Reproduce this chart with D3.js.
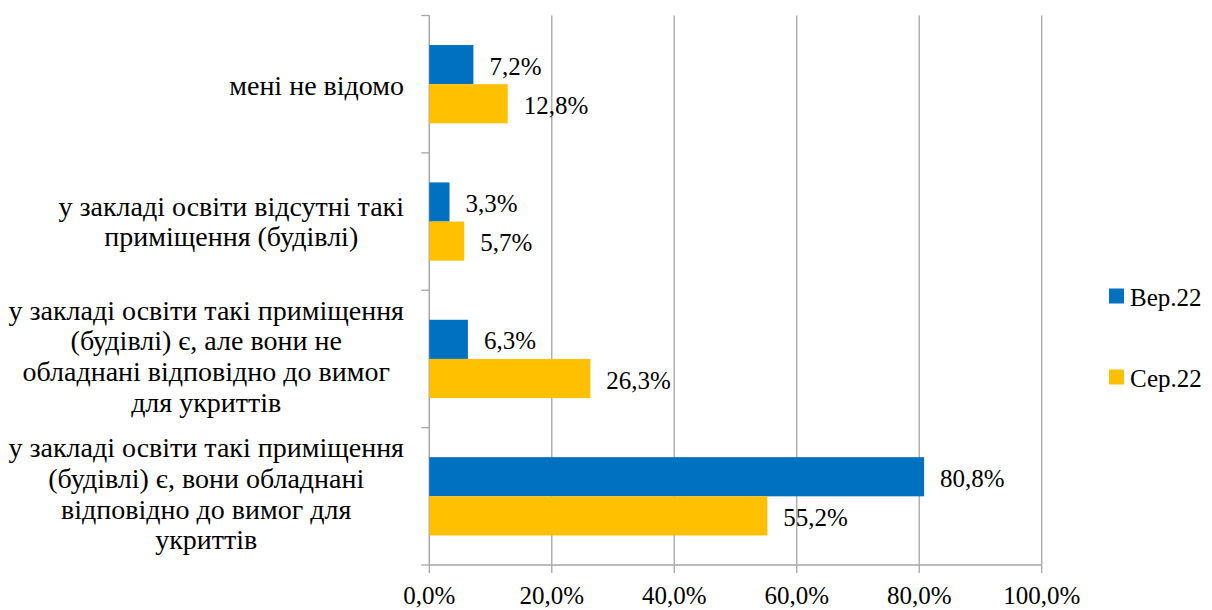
<!DOCTYPE html>
<html><head><meta charset="utf-8">
<script src="https://cdn.jsdelivr.net/npm/d3@7"></script>
</head><body style="margin:0"><svg id="c" width="1212" height="610" font-family="Times New Roman"></svg>
<script>
const categories = [
  "мені не відомо",
  "у закладі освіти відсутні такі приміщення (будівлі)",
  "у закладі освіти такі приміщення (будівлі) є, але вони не обладнані відповідно до вимог для укриттів",
  "у закладі освіти такі приміщення (будівлі) є, вони обладнані відповідно до вимог для укриттів"
];
const categoryLines = [
  ["мені не відомо"],
  ["у закладі освіти відсутні такі", "приміщення (будівлі)"],
  ["у закладі освіти такі приміщення", "(будівлі) є, але вони не", "обладнані відповідно до вимог", "для укриттів"],
  ["у закладі освіти такі приміщення", "(будівлі) є, вони обладнані", "відповідно до вимог для", "укриттів"]
];
const seriesNames = ["Вер.22", "Сер.22"];
const sep22 = [7.2, 3.3, 6.3, 80.8];
const aug22 = [12.8, 5.7, 26.3, 55.2];
const xTicks = [0, 20, 40, 60, 80, 100];
const colors = ["#0070C0", "#FFC000"];

const FONT = "Times New Roman";
const svg = d3.select("#c");
const x0 = 429.3, x1 = 1041.7, yTop = 15.5, yBot = 565;
const x = d3.scaleLinear().domain([0, 100]).range([x0, x1]);
const y = d3.scaleBand().domain(categories).range([yTop, yBot]).paddingInner(0.43).paddingOuter(0.215);
const ys = d3.scaleBand().domain(seriesNames).range([0, y.bandwidth()]);
const fmt = v => d3.format(".1f")(v).replace(".", ",") + "%";
const styleText = (sel, fs) => sel.style("font-family", FONT).style("font-size", (fs || 25) + "px");

// gridlines
svg.append("g").selectAll("line").data(xTicks.slice(1)).join("line")
  .attr("x1", d => x(d)).attr("x2", d => x(d)).attr("y1", yTop).attr("y2", yBot)
  .attr("stroke", "#A6A6A6").attr("stroke-width", 1.3);

// x axis (drawn manually from the scale's ticks)
const gx = svg.append("g");
gx.append("line").attr("x1", x0).attr("x2", x1).attr("y1", yBot).attr("y2", yBot)
  .attr("stroke", "#A6A6A6").attr("stroke-width", 1.5);
gx.selectAll("line.t").data(xTicks).join("line").attr("class", "t")
  .attr("x1", d => x(d)).attr("x2", d => x(d)).attr("y1", yBot).attr("y2", yBot + 8)
  .attr("stroke", "#A6A6A6").attr("stroke-width", 1.3);
gx.selectAll("text").data(xTicks).join("text")
  .attr("x", d => x(d)).attr("y", yBot + 39).attr("text-anchor", "middle")
  .call(styleText, 25).text(d => fmt(d));

// y axis (ticks at band boundaries)
const bounds = categories.map(c => y(c) - y.step() * y.paddingInner() / 2).concat([yBot]);
svg.append("line").attr("x1", x0).attr("x2", x0).attr("y1", yTop).attr("y2", yBot)
  .attr("stroke", "#A6A6A6").attr("stroke-width", 1.5);
svg.append("g").selectAll("line").data(bounds).join("line")
  .attr("x1", x0 - 8).attr("x2", x0).attr("y1", d => d).attr("y2", d => d)
  .attr("stroke", "#A6A6A6").attr("stroke-width", 1.3);

// bars
const series = [sep22, aug22];
series.forEach((vals, si) => {
  const g = svg.append("g");
  g.selectAll("rect").data(vals).join("rect")
    .attr("x", x(0)).attr("y", (d, i) => y(categories[i]) + ys(seriesNames[si]))
    .attr("width", d => x(d) - x(0)).attr("height", ys.bandwidth())
    .attr("fill", colors[si]);
  g.selectAll("text").data(vals).join("text")
    .attr("x", d => x(d) + 16).attr("y", (d, i) => y(categories[i]) + ys(seriesNames[si]) + ys.bandwidth() / 2 + 10)
    .call(styleText, 25).text(d => fmt(d));
});

// category labels
const lh = 30.7;
categoryLines.forEach((lines, i) => {
  const g = svg.append("g");
  const n = lines.length;
  const cy = y(categories[i]) + y.bandwidth() / 2 + 10.5 - (n - 1) * 1.2;
  const t = g.selectAll("text").data(lines).join("text")
    .call(styleText, 28).attr("text-anchor", "middle")
    .attr("y", (d, k) => cy + (k - (n - 1) / 2) * lh)
    .text(d => d);
  let w = 0; t.each(function () { w = Math.max(w, this.getComputedTextLength()); });
  t.attr("x", 404 - w / 2);
});

// legend
const legY = [296, 377];
seriesNames.forEach((s, i) => {
  svg.append("rect").attr("x", 1109).attr("y", legY[i] - 7.5).attr("width", 15).attr("height", 15).attr("fill", colors[i]);
  svg.append("text").attr("x", 1130).attr("y", legY[i] + 10).call(styleText, 25).text(s);
});
</script></body></html>
